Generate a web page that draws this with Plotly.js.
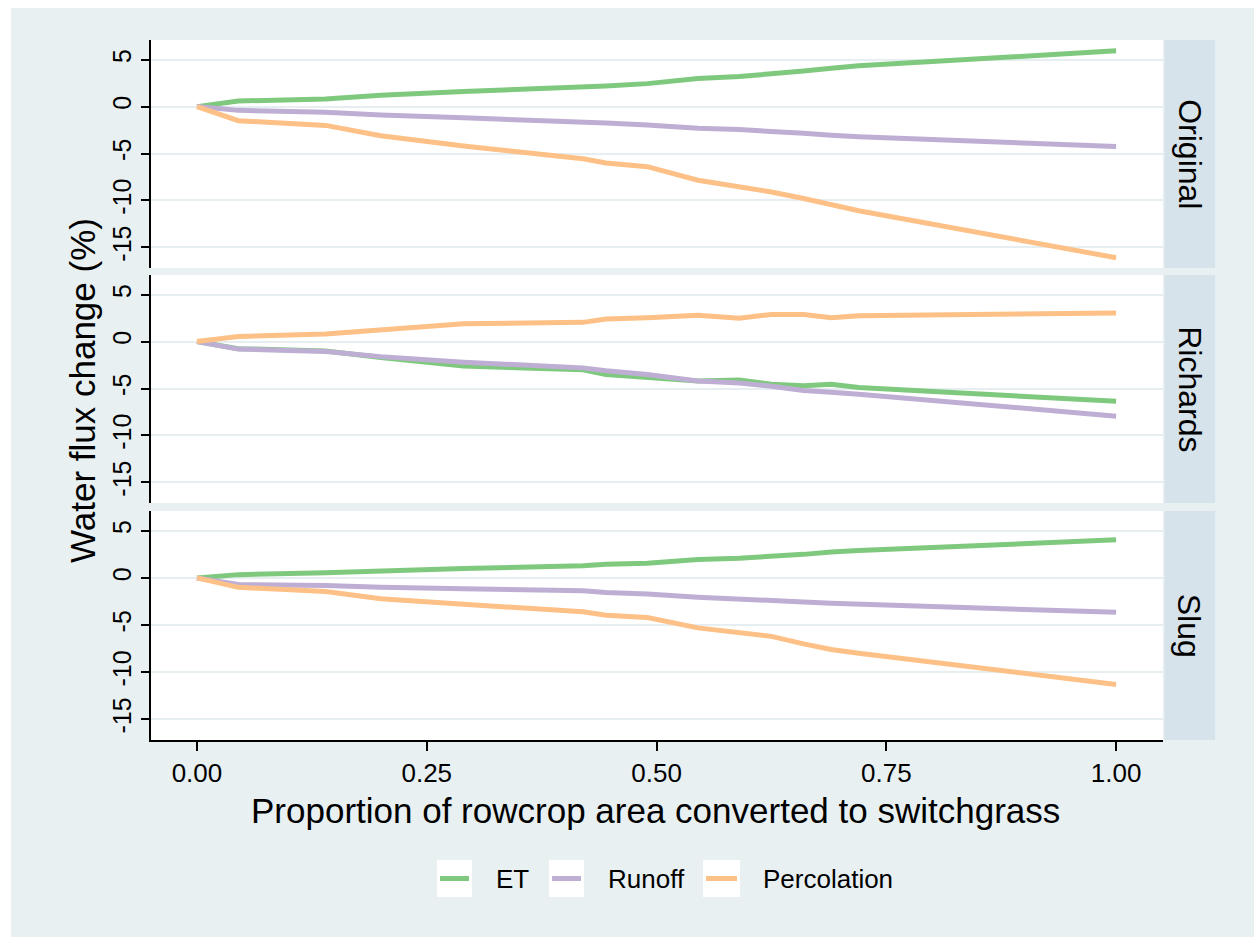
<!DOCTYPE html>
<html>
<head>
<meta charset="utf-8">
<script src="https://cdn.plot.ly/plotly-3.0.1.min.js"></script>
<style>
html,body{margin:0;padding:0;background:#ffffff;}
#chart{position:absolute;left:11px;top:8px;width:1243px;height:929px;}
</style>
</head>
<body>
<div id="chart"></div>
<script>
// Proportion of rowcrop area converted to switchgrass
const proportion = [0, 0.045, 0.14, 0.2, 0.29, 0.42, 0.445, 0.49, 0.545, 0.59, 0.625, 0.66, 0.69, 0.72, 1.0];

const panels = ["Original", "Richards", "Slug"];
const seriesNames = ["ET", "Runoff", "Percolation"];

// Original
const originalET          = [0, 0.6, 0.8, 1.2, 1.6, 2.05, 2.2, 2.45, 3.0, 3.2, 3.45, 3.8, 4.1, 4.35, 5.95];
const originalRunoff      = [0, -0.4, -0.6, -0.9, -1.2, -1.55, -1.75, -1.95, -2.3, -2.45, -2.6, -2.85, -3.05, -3.2, -4.25];
const originalPercolation = [0, -1.5, -2.0, -3.1, -4.2, -5.55, -6.0, -6.4, -7.85, -8.5, -9.1, -9.8, -10.5, -11.1, -16.1];

// Richards
const richardsET          = [0, -0.75, -1.0, -1.7, -2.6, -3.0, -3.5, -3.8, -4.2, -4.1, -4.55, -4.7, -4.55, -4.9, -6.35];
const richardsRunoff      = [0, -0.8, -1.05, -1.6, -2.2, -2.8, -3.1, -3.5, -4.2, -4.4, -4.75, -5.2, -5.4, -5.6, -7.95];
const richardsPercolation = [0, 0.55, 0.8, 1.2, 1.9, 2.05, 2.4, 2.55, 2.8, 2.5, 2.9, 2.9, 2.55, 2.75, 3.05];

// Slug
const slugET          = [0, 0.35, 0.55, 0.75, 1.0, 1.3, 1.45, 1.55, 1.95, 2.1, 2.25, 2.5, 2.75, 2.9, 4.05];
const slugRunoff      = [0, -0.7, -0.8, -1.0, -1.15, -1.35, -1.55, -1.7, -2.05, -2.2, -2.35, -2.55, -2.7, -2.8, -3.65];
const slugPercolation = [0, -1.0, -1.45, -2.2, -2.8, -3.6, -3.95, -4.2, -5.3, -5.8, -6.2, -7.0, -7.6, -8.0, -11.3];

const yTickVals = [-15, -10, -5, 0, 5];
const yTickText = ["-15", "-10", "-5", "0", "5"];
const xTickVals = [0, 0.25, 0.5, 0.75, 1.0];
const xTickText = ["0.00", "0.25", "0.50", "0.75", "1.00"];

const colors = ["#7fc97f", "#beaed4", "#fdc086"];
const panelData = [
  [originalET, originalRunoff, originalPercolation],
  [richardsET, richardsRunoff, richardsPercolation],
  [slugET, slugRunoff, slugPercolation]
];

const FONT = "Liberation Sans, Arial, sans-serif";
const BG = "#e8f0f2";
const STRIP = "#d7e3ea";
const GRID = "#e6eef1";

const traces = [];
panelData.forEach((series, p) => {
  series.forEach((vals, s) => {
    traces.push({
      x: proportion,
      y: vals,
      type: "scatter",
      mode: "lines",
      name: seriesNames[s],
      legendgroup: seriesNames[s],
      showlegend: false,
      line: {color: colors[s], width: 5},
      xaxis: p === 0 ? "x" : "x" + (p + 1),
      yaxis: p === 0 ? "y" : "y" + (p + 1),
      hoverinfo: "x+y+name"
    });
  });
});

const domains = [[0.6743, 1.0], [0.3386, 0.6643], [0.0, 0.3271]];
const xRange = [-0.05, 1.051];
const yRange = [-17.2, 7.1];

const layout = {
  width: 1243,
  height: 929,
  paper_bgcolor: BG,
  plot_bgcolor: "#ffffff",
  margin: {l: 140, r: 91, t: 32, b: 197},
  font: {family: FONT, color: "#000000", size: 22},
  showlegend: false,
  annotations: [],
  shapes: []
};

panels.forEach((name, p) => {
  const xa = p === 0 ? "xaxis" : "xaxis" + (p + 1);
  const ya = p === 0 ? "yaxis" : "yaxis" + (p + 1);
  const isBottom = p === panels.length - 1;
  layout[xa] = {
    domain: [0, 1],
    anchor: p === 0 ? "y" : "y" + (p + 1),
    range: xRange,
    showgrid: false,
    zeroline: false,
    showline: isBottom,
    linecolor: "#000",
    linewidth: 2,
    ticks: isBottom ? "outside" : "",
    ticklen: 9,
    tickwidth: 2,
    tickcolor: "#000",
    tickvals: xTickVals,
    ticktext: xTickText,
    showticklabels: isBottom,
    tickfont: {family: FONT, size: 26, color: "#000"}
  };
  if (p > 0) layout[xa].matches = "x";
  layout[ya] = {
    domain: domains[p],
    anchor: p === 0 ? "x" : "x" + (p + 1),
    range: yRange,
    showgrid: true,
    gridcolor: GRID,
    gridwidth: 2,
    zeroline: false,
    showline: true,
    linecolor: "#000",
    linewidth: 2,
    ticks: "outside",
    ticklen: 8,
    tickwidth: 2,
    tickcolor: "#000",
    tickvals: yTickVals,
    ticktext: yTickText,
    tickangle: -90,
    tickfont: {family: FONT, size: 25, color: "#000"}
  };
  // facet strip
  layout.shapes.push({
    type: "rect", xref: "paper", yref: "paper",
    x0: 1.0015, x1: 1.0515, y0: domains[p][0], y1: domains[p][1],
    fillcolor: STRIP, line: {width: 0}, layer: "below"
  });
  layout.annotations.push({
    text: name, xref: "paper", yref: "paper",
    x: 1.0265, y: (domains[p][0] + domains[p][1]) / 2,
    xanchor: "center", yanchor: "middle",
    textangle: 90, showarrow: false,
    font: {family: FONT, size: 32, color: "#000"}
  });
});

layout.annotations.push({
  text: "Water flux change (%)", xref: "paper", yref: "paper",
  x: -0.0682, y: 0.5, xanchor: "center", yanchor: "middle",
  textangle: -90, showarrow: false,
  font: {family: FONT, size: 35, color: "#000"}
});
layout.annotations.push({
  text: "Proportion of rowcrop area converted to switchgrass", xref: "paper", yref: "paper",
  x: 0.499, y: -0.101, xanchor: "center", yanchor: "middle",
  showarrow: false,
  font: {family: FONT, size: 35, color: "#000"}
});

// Legend (key boxes, key lines, labels) drawn in paper coordinates
const legendBoxes  = [[0.2826, 0.3172], [0.3933, 0.4279], [0.5455, 0.5820]];
const legendTextX  = [0.3389, 0.4496, 0.6028];
const legendY0 = -0.2243, legendY1 = -0.1714, legendYc = -0.1979;
seriesNames.forEach((nm, s) => {
  const [b0, b1] = legendBoxes[s];
  layout.shapes.push({
    type: "rect", xref: "paper", yref: "paper",
    x0: b0, x1: b1, y0: legendY0, y1: legendY1,
    fillcolor: "#ffffff", line: {width: 0}
  });
  layout.shapes.push({
    type: "line", xref: "paper", yref: "paper",
    x0: b0 + 0.003, x1: b1 - 0.003, y0: legendYc, y1: legendYc,
    line: {color: colors[s], width: 5}
  });
  layout.annotations.push({
    text: nm, xref: "paper", yref: "paper",
    x: legendTextX[s], y: legendYc, xanchor: "left", yanchor: "middle",
    showarrow: false,
    font: {family: FONT, size: 26, color: "#000"}
  });
});

Plotly.newPlot("chart", traces, layout, {displayModeBar: false, staticPlot: true});
</script>
</body>
</html>
